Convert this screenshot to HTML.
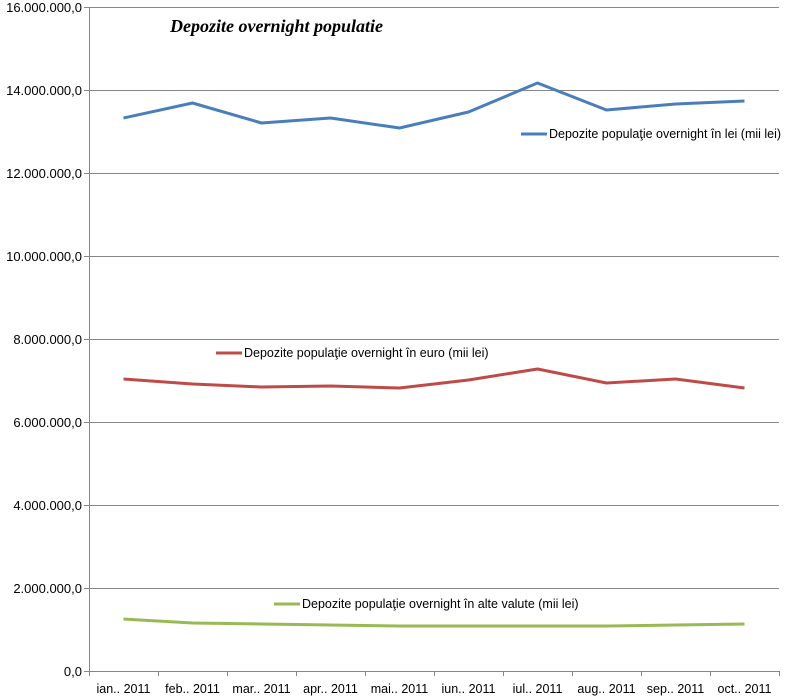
<!DOCTYPE html>
<html><head><meta charset="utf-8"><style>body{margin:0;background:#fff}svg{display:block}</style></head>
<body>
<svg width="787" height="698" xmlns="http://www.w3.org/2000/svg" font-family="Liberation Sans, sans-serif" font-size="12.5" fill="#000" xml:space="preserve">
<g stroke="#868686" stroke-width="1">
<line x1="89" y1="7.5" x2="779" y2="7.5"/>
<line x1="89" y1="90.5" x2="779" y2="90.5"/>
<line x1="89" y1="173.5" x2="779" y2="173.5"/>
<line x1="89" y1="256.5" x2="779" y2="256.5"/>
<line x1="89" y1="339.5" x2="779" y2="339.5"/>
<line x1="89" y1="422.5" x2="779" y2="422.5"/>
<line x1="89" y1="505.5" x2="779" y2="505.5"/>
<line x1="89" y1="588.5" x2="779" y2="588.5"/>
<line x1="89" y1="671.5" x2="779" y2="671.5"/>
<line x1="89.5" y1="7" x2="89.5" y2="671"/>
<line x1="84" y1="7.5" x2="89" y2="7.5"/><line x1="84" y1="90.5" x2="89" y2="90.5"/><line x1="84" y1="173.5" x2="89" y2="173.5"/><line x1="84" y1="256.5" x2="89" y2="256.5"/><line x1="84" y1="339.5" x2="89" y2="339.5"/><line x1="84" y1="422.5" x2="89" y2="422.5"/><line x1="84" y1="505.5" x2="89" y2="505.5"/><line x1="84" y1="588.5" x2="89" y2="588.5"/><line x1="84" y1="671.5" x2="89" y2="671.5"/>
<line x1="89.5" y1="671" x2="89.5" y2="676"/><line x1="158.5" y1="671" x2="158.5" y2="676"/><line x1="227.5" y1="671" x2="227.5" y2="676"/><line x1="296.5" y1="671" x2="296.5" y2="676"/><line x1="365.5" y1="671" x2="365.5" y2="676"/><line x1="434.5" y1="671" x2="434.5" y2="676"/><line x1="503.5" y1="671" x2="503.5" y2="676"/><line x1="572.5" y1="671" x2="572.5" y2="676"/><line x1="641.5" y1="671" x2="641.5" y2="676"/><line x1="710.5" y1="671" x2="710.5" y2="676"/><line x1="779.5" y1="671" x2="779.5" y2="676"/>
</g>
<g text-anchor="end" font-size="13">
<text x="82" y="12">16.000.000,0</text><text x="82" y="95">14.000.000,0</text><text x="82" y="178">12.000.000,0</text><text x="82" y="261">10.000.000,0</text><text x="82" y="344">8.000.000,0</text><text x="82" y="427">6.000.000,0</text><text x="82" y="510">4.000.000,0</text><text x="82" y="593">2.000.000,0</text><text x="82" y="676">0,0</text>
</g>
<g text-anchor="middle">
<text x="123.5" y="693">ian.. 2011</text><text x="192.5" y="693">feb.. 2011</text><text x="261.5" y="693">mar.. 2011</text><text x="330.5" y="693">apr.. 2011</text><text x="399.5" y="693">mai.. 2011</text><text x="468.5" y="693">iun.. 2011</text><text x="537.5" y="693">iul.. 2011</text><text x="606.5" y="693">aug.. 2011</text><text x="675.5" y="693">sep.. 2011</text><text x="744.5" y="693">oct.. 2011</text>
</g>
<g fill="none" stroke-width="3" stroke-linejoin="round">
<polyline stroke="#4a7ebb" points="123.5,118 192.5,103 261.5,123 330.5,118 399.5,128 468.5,112 537.5,83 606.5,110 675.5,104 744.5,101"/>
<polyline stroke="#be4b48" points="123.5,379 192.5,384 261.5,387 330.5,386 399.5,388 468.5,380 537.5,369 606.5,383 675.5,379 744.5,388"/>
<polyline stroke="#98b954" points="123.5,619 192.5,623 261.5,624 330.5,625 399.5,626 468.5,626 537.5,626 606.5,626 675.5,625 744.5,624"/>
</g>
<text x="170" y="32" font-family="Liberation Serif, serif" font-size="18" font-weight="bold" font-style="italic">Depozite overnight populatie</text>
<line x1="521" y1="134" x2="547" y2="134" stroke="#4a7ebb" stroke-width="3"/>
<text x="549" y="138">Depozite populaţie  overnight în lei (mii lei)</text>
<line x1="216" y1="353" x2="242" y2="353" stroke="#be4b48" stroke-width="3"/>
<text x="244" y="357">Depozite populaţie  overnight în euro (mii lei)</text>
<line x1="274" y1="604" x2="300" y2="604" stroke="#98b954" stroke-width="3"/>
<text x="302" y="608">Depozite populaţie  overnight în alte valute (mii lei)</text>
</svg>
</body></html>
